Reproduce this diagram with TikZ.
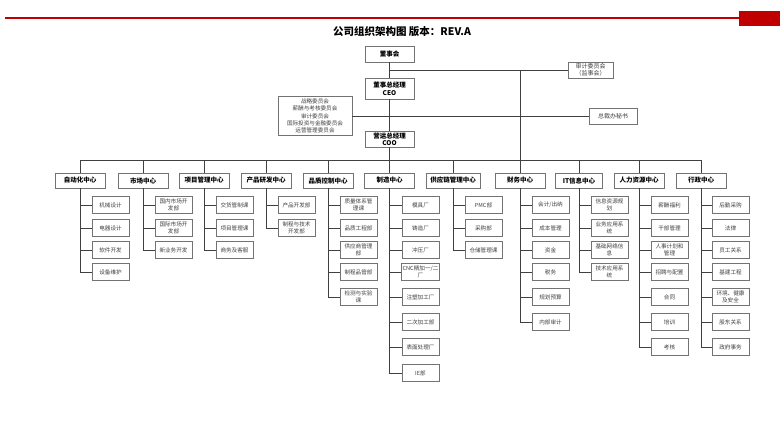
\documentclass[tikz,border=0pt]{standalone}
\usepackage{fontspec}
\setmainfont{Noto Sans CJK SC}
\usepackage{tikz}
\usetikzlibrary{positioning,shadows}
\definecolor{bannerred}{RGB}{192,0,0}
\tikzset{
    %Define connector style
    wire/.style={
           draw=black!75,
           line width=0.7pt},
    %Define style for boxes
    toprect/.style={
           rectangle,
           draw=black!55, line width=0.6pt,
           fill=white,
           minimum width=49pt,
           minimum height=16pt,
           inner sep=1pt,
           font=\fontsize{6.5}{7.5}\selectfont\bfseries,
           align=center,
           drop shadow={shadow xshift=0.6pt,shadow yshift=-0.6pt,fill=black!30}
           },
    headrect/.style={
           toprect,
           minimum width=50pt,
           minimum height=15pt,
           font=\fontsize{6.5}{7.5}\selectfont\bfseries
           },
    unitrect/.style={
           toprect,
           minimum width=37pt,
           minimum height=16.5pt,
           text=black!75,
           font=\fontsize{5.6}{6.6}\selectfont
           },
    noterect/.style={
           toprect,
           text=black!75,
           font=\fontsize{6}{7}\selectfont
           }
}
%row positions of the units
\def\rows{{205,228,250,272,297,322,347,373}}

\begin{document}
\begin{tikzpicture}[x=1pt,y=-1pt]
\useasboundingbox (0,0) rectangle (780,440);
% banner
\draw[bannerred,line width=1.3pt] (5,18) -- (740,18);
\fill[bannerred] (739,11) rectangle (780,26);
\node[font=\fontsize{10.5}{12}\selectfont\bfseries](title) at (402,32){公司组织架构图 版本：REV.A};
% board and management
\node[toprect](board) at (389.5,54){董事会};
\node[toprect, minimum height=21pt](ceo) at (389.5,88.5){董事总经理\\CEO};
\node[toprect](coo) at (389.5,139){营运总经理\\COO};
\node[noterect, minimum width=45pt](sup) at (590.5,70){审计委员会\\（监事会）};
\node[noterect, minimum width=74pt, minimum height=39pt, font=\fontsize{5.6}{7.2}\selectfont](cmt) at (315,116){战略委员会\\薪酬与考核委员会\\审计委员会\\国际投资与金融委员会\\运营管理委员会};
\node[noterect, minimum width=48pt](sec) at (613,116){总裁办秘书};
\coordinate (bus) at (389.5,160);
\path[wire]
	(board) edge (ceo)
	(ceo) edge (coo)
	(coo.south) edge (bus)
	(cmt) edge (sec);
\draw[wire] (board.south) |- (sup.west);
% centres
\node[headrect](auto) at (80,180.5){自动化中心};
\node[headrect](mkt) at (143,180.5){市场中心};
\node[headrect](proj) at (204,180.5){项目管理中心};
\node[headrect](rnd) at (266,180.5){产品研发中心};
\node[headrect](qc) at (328,180.5){品质控制中心};
\node[headrect](mfg) at (389.5,180.5){制造中心};
\node[headrect, minimum width=54pt](scm) at (453,180.5){供应链管理中心};
\node[headrect](fin) at (520,180.5){财务中心};
\node[headrect, minimum width=47pt](it) at (579,180.5){IT信息中心};
\node[headrect](hr) at (639,180.5){人力资源中心};
\node[headrect](adm) at (701,180.5){行政中心};
\foreach \h in {auto,mkt,proj,rnd,qc,mfg,scm,fin,it,hr,adm}
	\draw[wire] (bus) -| (\h.north);
\draw[wire] (fin.north |- sup.west) -- (fin.north);
% units
\foreach \t [count=\i] in {机械设计,电器设计,软件开发,设备维护}{
	\pgfmathsetmacro\yy{\rows[\i-1]}
	\node[unitrect](auto\i) at (110.5,\yy){\t};
	\draw[wire] (auto.south) |- (auto\i.west);}
\foreach \t [count=\i] in {国内市场开\\发部,国际市场开\\发部,新业务开发}{
	\pgfmathsetmacro\yy{\rows[\i-1]}
	\node[unitrect](mkt\i) at (173.5,\yy){\t};
	\draw[wire] (mkt.south) |- (mkt\i.west);}
\foreach \t [count=\i] in {交货管制课,项目管理课,商务及客服}{
	\pgfmathsetmacro\yy{\rows[\i-1]}
	\node[unitrect](proj\i) at (234.5,\yy){\t};
	\draw[wire] (proj.south) |- (proj\i.west);}
\foreach \t [count=\i] in {产品开发部,制程与技术\\开发部}{
	\pgfmathsetmacro\yy{\rows[\i-1]}
	\node[unitrect](rnd\i) at (296.5,\yy){\t};
	\draw[wire] (rnd.south) |- (rnd\i.west);}
\foreach \t [count=\i] in {质量体系管\\理课,品质工程部,供应商管理\\部,制程品管部,检测与实验\\课}{
	\pgfmathsetmacro\yy{\rows[\i-1]}
	\node[unitrect](qc\i) at (358.5,\yy){\t};
	\draw[wire] (qc.south) |- (qc\i.west);}
\foreach \t [count=\i] in {模具厂,铸造厂,冲压厂,CNC精加一/二\\厂,注塑加工厂,二次加工部,表面处理厂,IE部}{
	\pgfmathsetmacro\yy{\rows[\i-1]}
	\node[unitrect](mfg\i) at (420.5,\yy){\t};
	\draw[wire] (mfg.south) |- (mfg\i.west);}
\foreach \t [count=\i] in {PMC部,采购部,仓储管理课}{
	\pgfmathsetmacro\yy{\rows[\i-1]}
	\node[unitrect](scm\i) at (483.5,\yy){\t};
	\draw[wire] (scm.south) |- (scm\i.west);}
\foreach \t [count=\i] in {会计/出纳,成本管理,资金,税务,规划预算,内部审计}{
	\pgfmathsetmacro\yy{\rows[\i-1]}
	\node[unitrect](fin\i) at (550.5,\yy){\t};
	\draw[wire] (fin.south) |- (fin\i.west);}
\foreach \t [count=\i] in {信息资源规\\划,业务应用系\\统,基础网络信\\息,技术应用系\\统}{
	\pgfmathsetmacro\yy{\rows[\i-1]}
	\node[unitrect](it\i) at (609.5,\yy){\t};
	\draw[wire] (it.south) |- (it\i.west);}
\foreach \t [count=\i] in {薪酬福利,干部管理,人事计划和\\管理,招聘与配置,合同,培训,考核}{
	\pgfmathsetmacro\yy{\rows[\i-1]}
	\node[unitrect](hr\i) at (669.5,\yy){\t};
	\draw[wire] (hr.south) |- (hr\i.west);}
\foreach \t [count=\i] in {后勤采购,法律,员工关系,基建工程,环境、健康\\及安全,股东关系,政府事务}{
	\pgfmathsetmacro\yy{\rows[\i-1]}
	\node[unitrect](adm\i) at (730.5,\yy){\t};
	\draw[wire] (adm.south) |- (adm\i.west);}
\end{tikzpicture}
\end{document}
